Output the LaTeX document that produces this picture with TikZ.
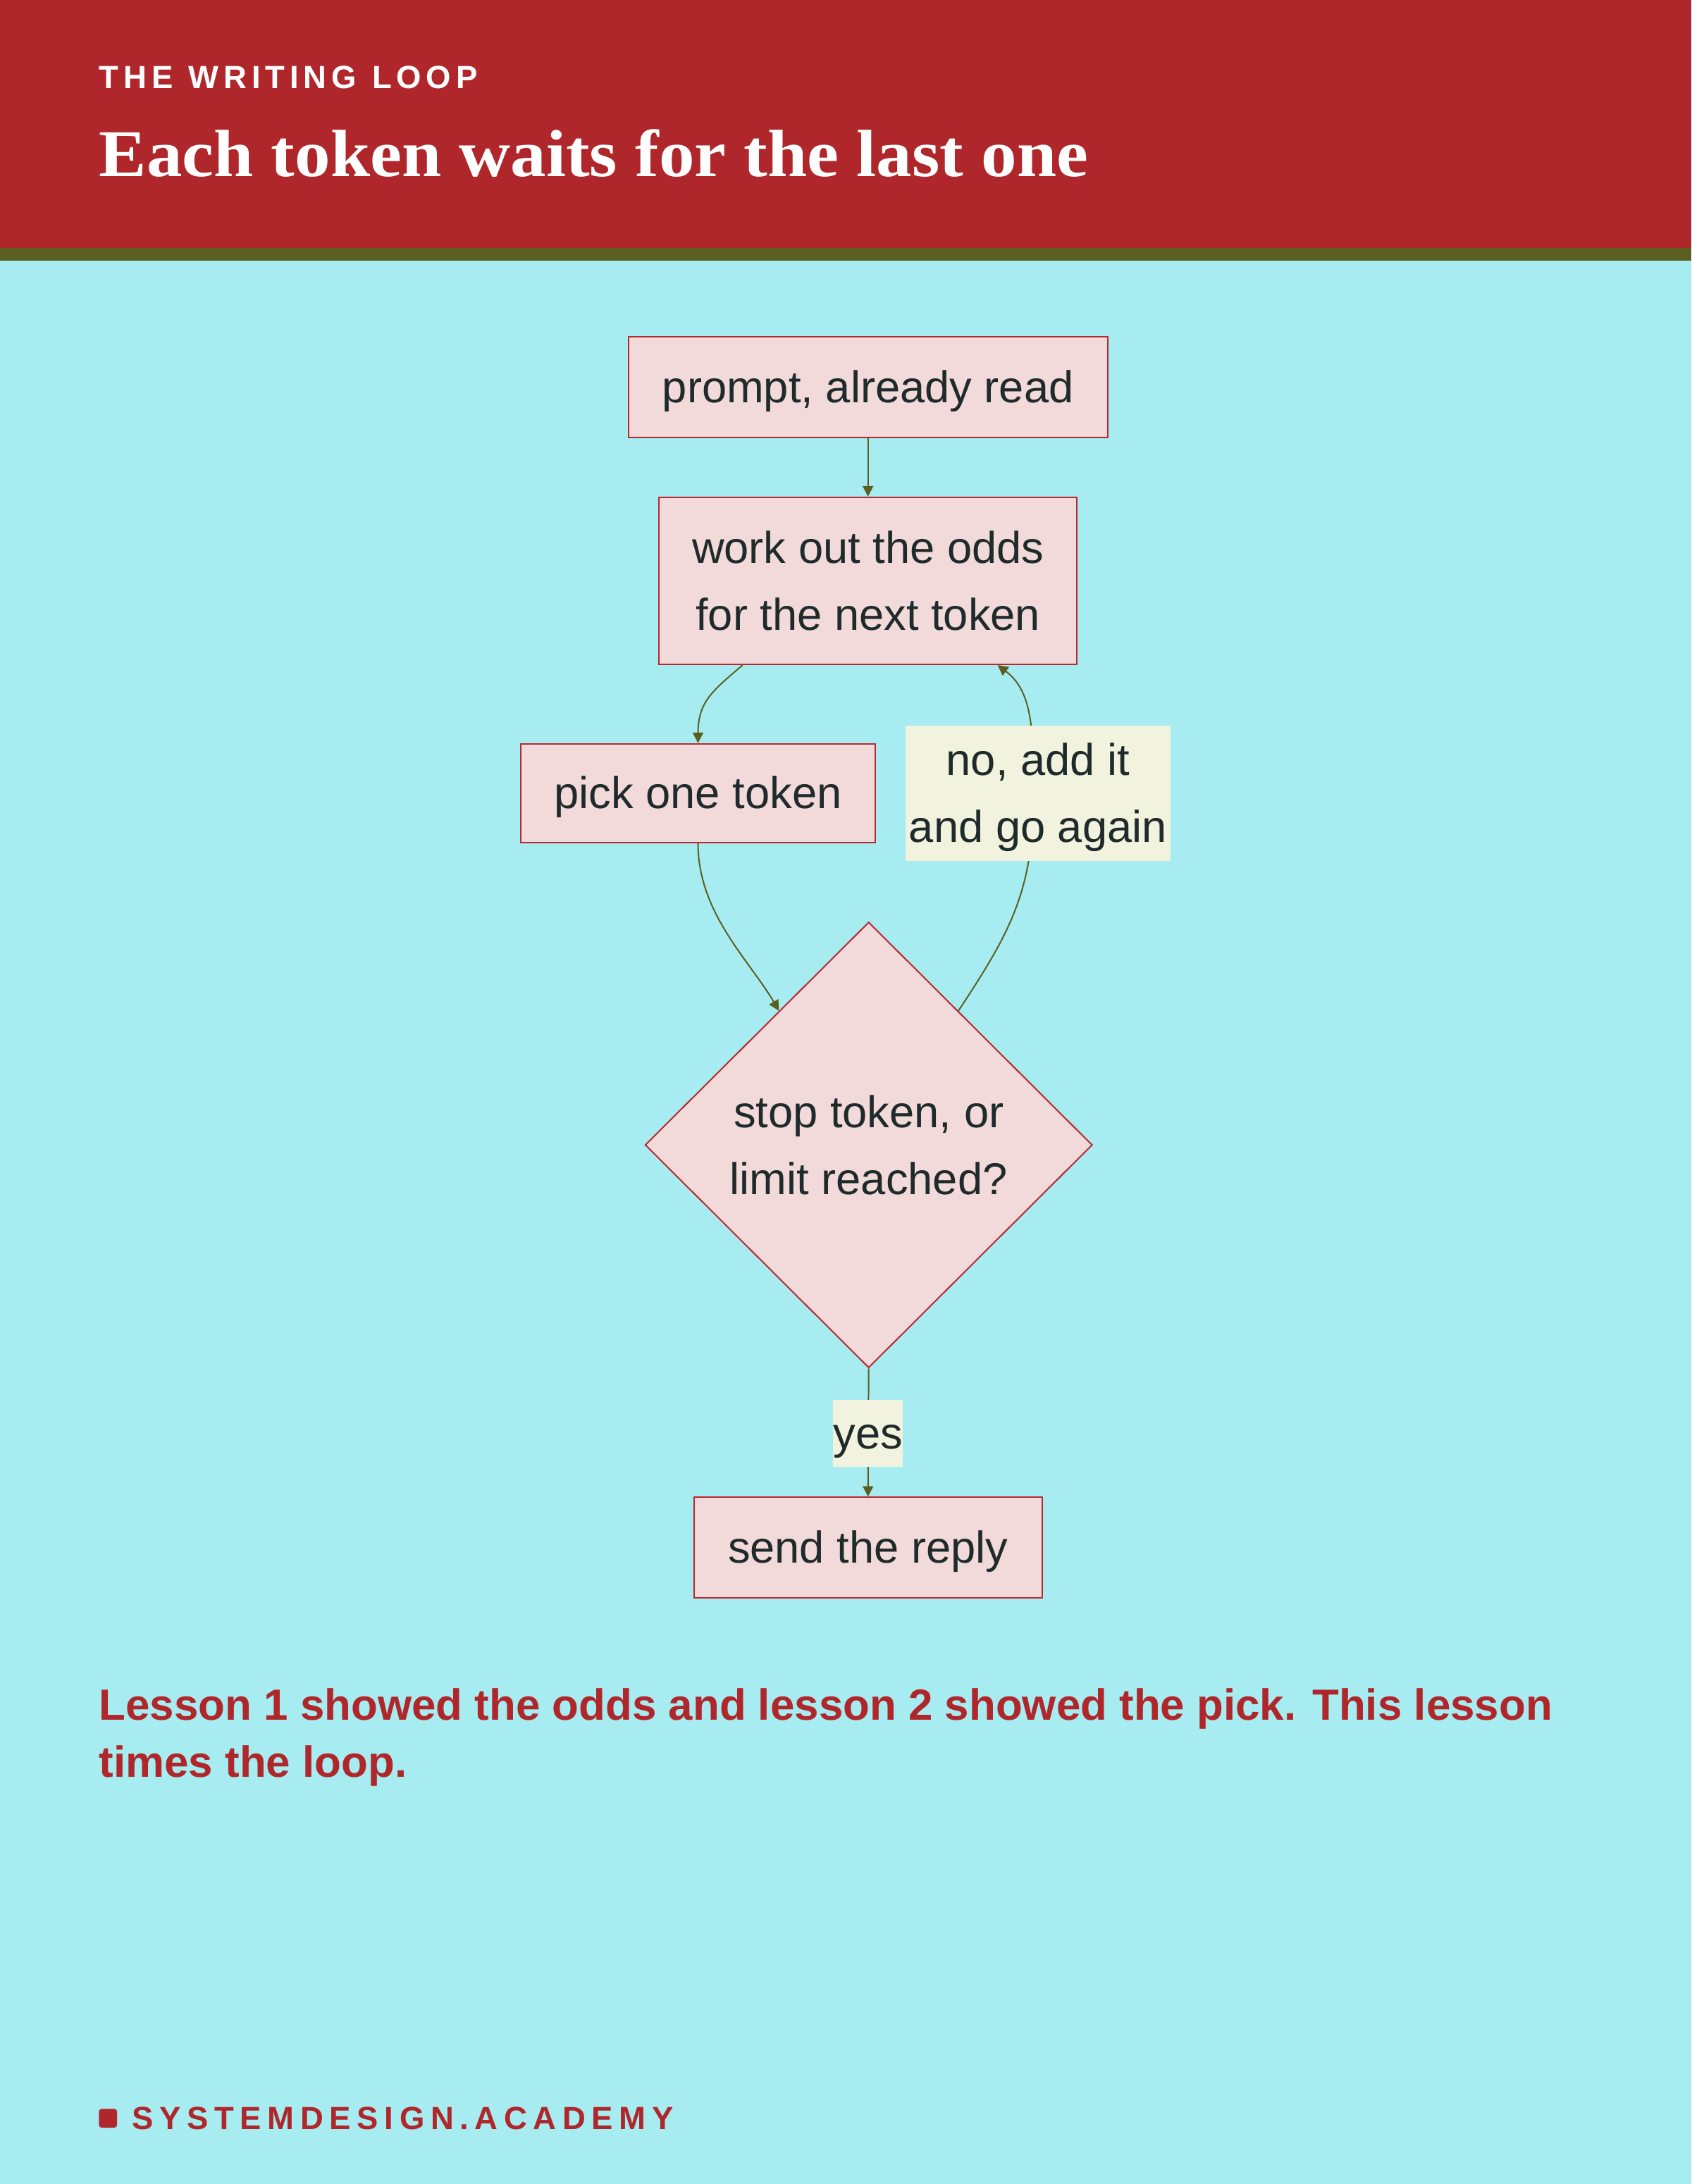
\documentclass[tikz,border=0pt]{standalone}
\usepackage{fontspec}
\setmainfont{Liberation Sans}
\newfontfamily\titlefont[FakeStretch=1.065]{Liberation Serif}
\newfontfamily\kickfont[LetterSpace=15,WordSpace=1.15]{Liberation Sans}
\newfontfamily\footfont[LetterSpace=19]{Liberation Sans}
\usetikzlibrary{shapes.geometric,arrows.meta,calc}
\definecolor{hdr}{HTML}{AF272B}
\definecolor{stripe}{HTML}{5A5E20}
\definecolor{bgc}{HTML}{A7ECF0}
\definecolor{boxfill}{HTML}{F2D9DA}
\definecolor{boxline}{HTML}{B8282E}
\definecolor{lblfill}{HTML}{F1F3DF}
\definecolor{ink}{HTML}{1F2A2A}
\definecolor{arrowc}{HTML}{5A5E1F}
\pgfdeclarelayer{bglayer}
\pgfdeclarelayer{edges}
\pgfsetlayers{bglayer,edges,main}
\begin{document}
\begin{tikzpicture}[x=1pt,y=-1pt,
  box/.style={draw=boxline, line width=1pt, fill=boxfill, text=ink, inner sep=0pt,
    font=\fontsize{32}{48}\selectfont, align=center},
  lbl/.style={fill=lblfill, text=ink, inner sep=0pt,
    font=\fontsize{32}{48}\selectfont, align=center},
  oneline/.style={text height=29pt, text depth=7pt},
  arr/.style={draw=arrowc, line width=1pt, -{Triangle[length=7.5pt,width=7.5pt]}},
  plain/.style={anchor=base west, inner sep=0pt}]
\useasboundingbox (0,0) rectangle (1214,1568);
\begin{pgfonlayer}{bglayer}
\fill[bgc] (0,0) rectangle (1214,1568);
\fill[hdr] (0,0) rectangle (1214,178);
\fill[stripe] (0,178) rectangle (1214,187);
\end{pgfonlayer}

\node[plain, text=white, font=\kickfont\bfseries\fontsize{23}{28}\selectfont] (kicker) at (71,63.7) {THE WRITING LOOP};
\node[plain, text=white, font=\titlefont\bfseries\fontsize{48}{56}\selectfont] (title) at (71,126.5) {Each token waits for the last one};

\node[box, oneline, minimum width=344pt, minimum height=72pt] (b1) at (623,278) {prompt, already read};
\node[box, minimum width=300pt, minimum height=120pt] (b2) at (623,417) {work out the odds\\for the next token};
\node[box, oneline, minimum width=254pt, minimum height=71pt] (b3) at (501,569.5) {pick one token};
\node[box, diamond, minimum width=321pt, minimum height=320pt] (d) at (623.5,822) {stop token, or\\limit reached?};
\node[box, oneline, minimum width=250pt, minimum height=72pt] (b4) at (623,1111) {send the reply};

\node[lbl, minimum width=190pt, minimum height=97pt] (no) at (745,569.5) {\rule{0pt}{29pt}no, add it\\and go again};
\node[lbl, oneline, minimum height=48pt] (yes) at (623,1029) {yes};

\coordinate (b2-out) at ($(b2.south)+(-90,0)$);
\coordinate (b2-in) at ($(b2.south)+(93,0)$);
\coordinate (d-in) at ($(d.north)!0.4!(d.west)$);
\coordinate (d-out) at ($(d.north)!0.4!(d.east)$);
\coordinate (no-mid) at ($(no.center)+(-3,0)$);

\begin{pgfonlayer}{edges}
\draw[arr] (b1.south) -- (b2.north);
\draw[arr] (b2-out) .. controls ($(b2-out)+(-21,18)$) and ($(b3.north)+(0,-30)$) .. (b3.north);
\draw[arr] (b3.south) .. controls ($(b3.south)+(0,50)$) and ($(d-in)+(-21,-36)$) .. (d-in);
\draw[arr] (d-out) .. controls ($(d-out)+(37,-56)$) and ($(no-mid)+(0,70)$) .. (no-mid)
  .. controls ($(no-mid)+(0,-49)$) and ($(b2-in)+(24,18)$) .. (b2-in);
\draw[arr] (d.south) -- (b4.north);
\end{pgfonlayer}

\node[plain, text=hdr, font=\bfseries\fontsize{31.3}{41}\selectfont] (note1) at (71,1235) {Lesson 1 showed the odds and lesson 2 showed the pick. This lesson};
\node[plain, text=hdr, font=\bfseries\fontsize{31.3}{41}\selectfont] (note2) at (71,1276) {times the loop.};

\node[fill=hdr, rounded corners=2pt, minimum width=13pt, minimum height=13.5pt, inner sep=0pt] (bullet) at (77.5,1520.8) {};
\node[plain, text=hdr, font=\footfont\bfseries\fontsize{23}{28}\selectfont] (site) at (94.7,1528.6) {SYSTEMDESIGN.ACADEMY};
\end{tikzpicture}
\end{document}
